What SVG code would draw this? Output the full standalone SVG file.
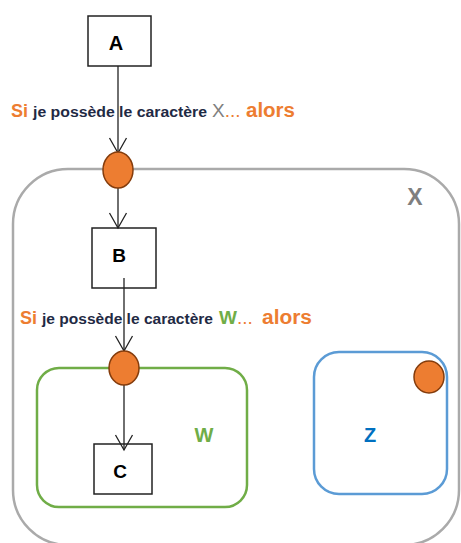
<svg xmlns="http://www.w3.org/2000/svg" width="461" height="543" viewBox="0 0 461 543">
<defs>
<style>
.box{fill:#fff;stroke:#222;stroke-width:1.5}
.lbl{font-family:"Liberation Sans",Arial,sans-serif;font-weight:bold;text-anchor:middle;dominant-baseline:central}
.dot{fill:#ed7d31;stroke:#843c0c;stroke-width:1.5}
.edge{stroke:#222;stroke-width:1.3;fill:none}
.cond{font-family:"Liberation Sans",Arial,sans-serif;font-weight:bold}
.si{font-size:18px;fill:#ed7d31}
.mid{font-size:14px;fill:#1f2a44}
.al{font-size:20px;fill:#ed7d31}
</style>
<marker id="v" viewBox="-16 -10 18 20" refX="0" refY="0" markerWidth="18" markerHeight="20" markerUnits="userSpaceOnUse" orient="auto">
<path d="M-15,-8.5 L0,0 L-15,8.5" fill="none" stroke="#222" stroke-width="1.3"/>
</marker>
</defs>
<g id="X">
<rect x="13" y="169" width="446" height="376" rx="55" fill="none" stroke="#aaaaaa" stroke-width="2.5"/>
<text x="415" y="197" class="lbl" font-size="23" fill="#7f7f7f">X</text>
</g>
<g id="W">
<rect x="37" y="368" width="210" height="139" rx="22" fill="none" stroke="#70ad47" stroke-width="2.5"/>
<text x="204" y="435" class="lbl" font-size="20" fill="#70ad47">W</text>
</g>
<g id="Z">
<rect x="314" y="352" width="133" height="142" rx="25" fill="none" stroke="#5b9bd5" stroke-width="2.5"/>
<text x="370" y="435" class="lbl" font-size="20" fill="#0070c0">Z</text>
<ellipse cx="429" cy="377" rx="15" ry="16" class="dot"/>
</g>
<g id="A">
<rect x="88" y="16" width="63" height="50" class="box"/>
<text x="116" y="43" class="lbl" font-size="20" fill="#000">A</text>
</g>
<g id="B">
<rect x="92" y="228" width="64" height="60" class="box"/>
<text x="119" y="255" class="lbl" font-size="19" fill="#000">B</text>
</g>
<g id="C">
<rect x="94" y="444" width="58" height="50" class="box"/>
<text x="120" y="471" class="lbl" font-size="19" fill="#000">C</text>
</g>
<g id="connectors">
<line x1="118" y1="66" x2="118" y2="153" class="edge" marker-end="url(#v)"/>
<line x1="118" y1="188" x2="118" y2="228" class="edge" marker-end="url(#v)"/>
<line x1="124" y1="278" x2="124" y2="351" class="edge" marker-end="url(#v)"/>
<line x1="124" y1="385" x2="124" y2="450" class="edge" marker-end="url(#v)"/>
</g>
<g id="cond1" class="cond">
<text x="11" y="117" class="si">Si</text>
<text x="33" y="117" class="mid" textLength="174" lengthAdjust="spacingAndGlyphs">je possède le caractère</text>
<text x="212" y="117" font-size="19" font-weight="normal" fill="#7f7f7f">X<tspan fill="#ed7d31">...</tspan></text>
<text x="246" y="117" class="al" textLength="49" lengthAdjust="spacingAndGlyphs">alors</text>
</g>
<g id="cond2" class="cond">
<text x="20" y="324" class="si">Si</text>
<text x="42" y="324" class="mid" textLength="171" lengthAdjust="spacingAndGlyphs">je possède le caractère</text>
<text x="219" y="324" font-size="19" fill="#70ad47">W<tspan font-weight="normal" fill="#ed7d31">...</tspan></text>
<text x="262" y="324" class="al" textLength="50" lengthAdjust="spacingAndGlyphs">alors</text>
</g>
<g id="dots">
<ellipse cx="118" cy="170" rx="15" ry="18" class="dot"/>
<ellipse cx="124" cy="368" rx="15" ry="17" class="dot"/>
</g>
</svg>
